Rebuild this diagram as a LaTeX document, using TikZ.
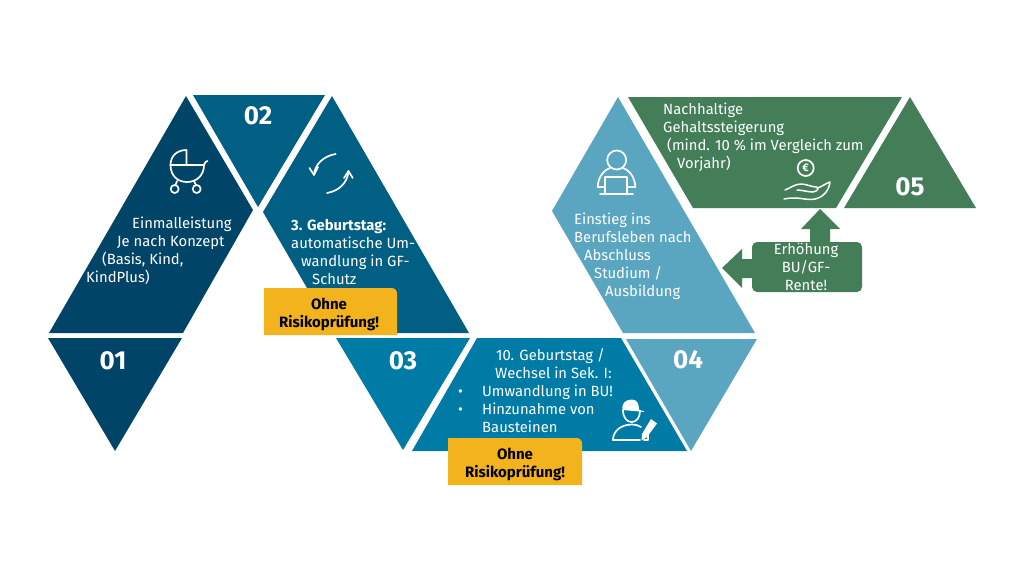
\documentclass[tikz,border=0pt]{standalone}
\usepackage{fontspec}
\setmainfont{Fira Sans}
\definecolor{cA}{HTML}{004468}
\definecolor{cB}{HTML}{005F82}
\definecolor{cC}{HTML}{007BA5}
\definecolor{cD}{HTML}{5AA6C0}
\definecolor{cE}{HTML}{437E59}
\definecolor{cY}{HTML}{F2B31C}
\newcommand\fl{\rule{0pt}{13pt}}
\tikzset{
  bodytext/.style={text=white,inner sep=0pt,align=left,anchor=north west,font=\fontsize{14.8}{18}\selectfont},
  numtext/.style={text=white,inner sep=0pt,font=\fontsize{26}{28}\bfseries\selectfont},
  warntext/.style={text=black,inner sep=0pt,align=center,anchor=north,font=\fontsize{15}{18}\bfseries\selectfont},
  calltext/.style={text=white,inner sep=0pt,align=center,anchor=north,font=\fontsize{14.8}{18}\selectfont},
  icon/.style={draw=white,line width=1.7pt,line cap=round,line join=round}
}
\begin{document}
\begin{tikzpicture}[x=1pt,y=-1pt]
\useasboundingbox (0,0) rectangle (1024,576);
\fill[white] (0,0) rectangle (1024,576);
% panels
\fill[cA] (186,96) -- (253,210) -- (183,333) -- (49,333) -- cycle;
\fill[cA] (48,338) -- (182,338) -- (115,451) -- cycle;
\fill[cB] (193,95) -- (325,95) -- (258,207) -- cycle;
\fill[cB] (332,96) -- (469,333) -- (333,333) -- (263,212) -- cycle;
\fill[cC] (336,338) -- (470,338) -- (403,450) -- cycle;
\fill[cC] (477,338) -- (621,338) -- (687,451) -- (412,451) -- cycle;
\fill[cD] (626,339) -- (757,339) -- (691,451) -- cycle;
\fill[cD] (618,97) -- (552,211) -- (623,333) -- (755,333) -- cycle;
\fill[cE] (628,97) -- (902,97) -- (836,208) -- (693,208) -- cycle;
\fill[cE] (910,97) -- (976,208) -- (844,208) -- cycle;
% callout with arrows
\fill[cE,rounded corners=5pt] (752,242) rectangle (862,292);
\fill[cE] (810,245) -- (810,229) -- (801,229) -- (820,209) -- (840,229) -- (830,229) -- (830,245) -- cycle;
\fill[cE] (755,259) -- (742,259) -- (742,249) -- (722,268) -- (742,288) -- (742,278) -- (755,278) -- cycle;
% warning boxes
\fill[cY] (264,288) -- (391,288) .. controls (395,288) and (397,290) .. (397,294) -- (397,335) -- (264,335) -- cycle;
\fill[cY] (448,438) -- (576,438) .. controls (580,438) and (582,440) .. (582,444) -- (582,485) -- (448,485) -- cycle;
% numbers
\node[numtext] (n1) at (113,361) {01};
\node[numtext] (n2) at (258,116) {02};
\node[numtext] (n3) at (403,361) {03};
\node[numtext] (n4) at (688,360) {04};
\node[numtext] (n5) at (910,187) {05};
% texts
\node[bodytext] (t1) at (86,215) {\fl\hspace*{46pt}Einmalleistung\\\hspace*{31pt}Je nach Konzept\\\hspace*{16pt}(Basis, Kind,\\KindPlus)};
\node[bodytext] (t2) at (291,217) {\fl\textbf{3. Geburtstag:}\\automatische Um-\\\hspace*{10pt}wandlung in GF-\\\hspace*{21pt}Schutz};
\node[bodytext] (t3) at (458,347) {\fl\hspace*{38pt}10. Geburtstag /\\\hspace*{37pt}Wechsel in Sek. I:\\\makebox[24pt][l]{•}Umwandlung in BU!\\\makebox[24pt][l]{•}Hinzunahme von\\\hspace*{24pt}Bausteinen};
\node[bodytext] (t4) at (574,211) {\fl Einstieg ins\\Berufsleben nach\\\hspace*{10pt}Abschluss\\\hspace*{20pt}Studium /\\\hspace*{31pt}Ausbildung};
\node[bodytext] (t5) at (663,101) {\fl Nachhaltige\\Gehaltssteigerung\\\hspace*{4pt}(mind. 10 \% im Vergleich zum\\\hspace*{14pt}Vorjahr)};
\node[calltext] (t6) at (806,241) {\fl Erhöhung\\BU/GF-\\Rente!};
\node[warntext] (w1) at (329,296) {\fl Ohne\\Risikoprüfung!};
\node[warntext] (w2) at (515,446) {\fl Ohne\\Risikoprüfung!};
% stroller icon
\draw[icon] (170.5,165) .. controls (170.5,156) and (177,150) .. (186.5,150) -- (186.5,165);
\draw[icon] (170.5,165) -- (204,165);
\draw[icon] (170.5,165) .. controls (170.5,176) and (178,182) .. (187,182) .. controls (197,182) and (204,175) .. (204,165) .. controls (204,162) and (207,161) .. (207.5,161);
\draw[icon] (177,181) -- (175.5,185) (194,181) -- (196,185);
\draw[icon] (174.7,189) circle[radius=4] (196.7,189) circle[radius=4];
% cycle icon
\draw[icon] (335.7,154) .. controls (323,156) and (315,165) .. (314,174);
\draw[icon] (309.5,168) -- (314,175) -- (318,167);
\draw[icon] (327,193) .. controls (339,191) and (347,183) .. (348.5,172);
\draw[icon] (344,178) -- (348.5,171) -- (352.7,178);
% person with laptop icon
\draw[icon] (616.7,160) circle[radius=9.5];
\draw[icon] (610,168) .. controls (602,171) and (598,179) .. (597.7,187) -- (605,187);
\draw[icon] (623,168) .. controls (631,171) and (635,179) .. (635.3,187) -- (627,187);
\draw[icon] (605,194) -- (605,177) -- (627,177) -- (627,194);
\draw[icon] (600,194) -- (633,194);
% coin and hand icon
\draw[icon] (805.7,168) circle[radius=8];
\node[text=white,inner sep=0pt,font=\fontsize{11}{11}\bfseries\selectfont] (euro) at (805.7,168) {€};
\draw[icon,line width=1.5pt] (785,190) .. controls (790,188) and (795,184) .. (801,184) .. controls (806,184) and (812,187) .. (816,187) .. controls (819,187) and (819,191) .. (813,192) .. controls (808,192) and (802,190) .. (797,190);
\draw[icon,line width=1.5pt] (817,188) .. controls (822,187) and (826,183) .. (830,182) .. controls (829,190) and (824,197) .. (815,199) .. controls (806,201) and (800,196) .. (784,199);
% hat person icon
\draw[icon] (623,410) .. controls (623,418) and (627,422) .. (631.7,422) .. controls (636,422) and (640,418) .. (640,411);
\fill[white] (622.7,410) .. controls (621,403) and (626,399.5) .. (632,399.5) .. controls (637,399.5) and (639,404) .. (639,409.5) -- (645,412) -- cycle;
\draw[icon] (613,440) .. controls (613,431) and (621,424.5) .. (632,424.5) .. controls (635,424.5) and (638,425) .. (641,427);
\draw[icon] (613,440) -- (640,440);
\draw[icon] (648,433) -- (648,440) -- (644,440);
\fill[white] (651,419) -- (657,423.5) -- (647,437) -- (641.5,440.5) -- (642,434) -- cycle;
\end{tikzpicture}
\end{document}
